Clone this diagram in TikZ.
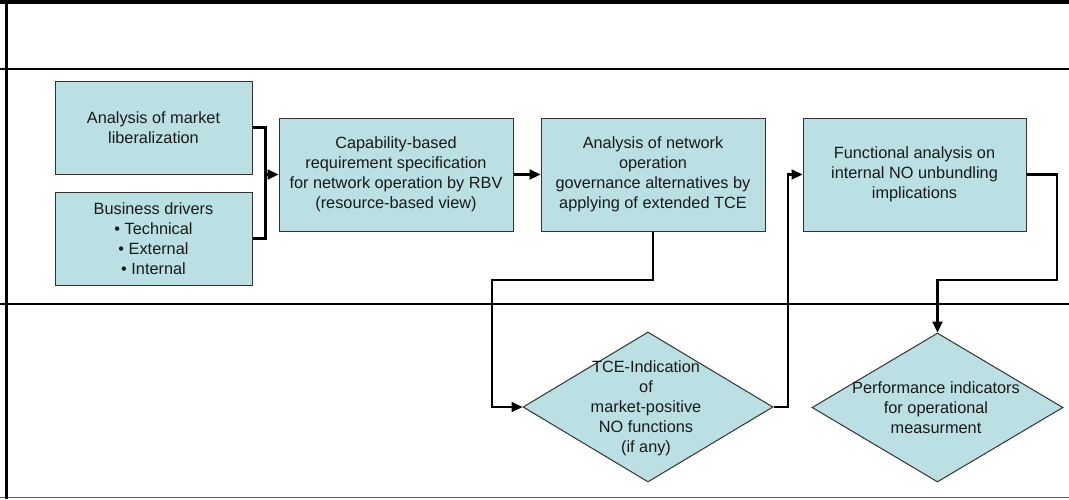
\documentclass[tikz,border=0pt]{standalone}
\usepackage{fontspec}
\setmainfont{Liberation Sans}
\usetikzlibrary{arrows.meta,shapes.geometric,calc}

\definecolor{boxfill}{RGB}{187,224,227}
\definecolor{boxline}{RGB}{50,50,50}
\definecolor{inktext}{RGB}{25,25,25}

\tikzset{
  procbox/.style={draw=boxline, line width=1pt, fill=boxfill, rectangle,
    inner sep=0pt, align=center, text=inktext,
    font=\fontsize{16.3}{20}\selectfont},
  decision/.style={draw=boxline, line width=1pt, fill=boxfill, diamond,
    inner sep=0pt},
  dectext/.style={align=center, text=inktext, inner sep=0pt,
    font=\fontsize{16.3}{20}\selectfont},
  link/.style={draw=black, line width=2.2pt},
  flow/.style={link, -{Triangle[length=11pt,width=10pt]}},
  lane/.style={draw=black, line width=1.3pt}
}

\begin{document}
\begin{tikzpicture}[x=1pt, y=-1pt]
  \useasboundingbox (0,0) rectangle (1069,499);

  % pool frame and lane separators
  \draw[lane] (0,69) -- (1069,69);
  \draw[lane] (0,304) -- (1069,304);
  \draw[lane, draw=black!65] (0,497.5) -- (1069,497.5);
  \draw[line width=3.6pt] (0,1.8) -- (1069,1.8);
  \draw[line width=3pt] (6.5,0) -- (6.5,499);

  % process steps
  \node[procbox, minimum width=197pt, minimum height=93pt] (b1) at (153.5,127.5)
    {Analysis of market\\liberalization};
  \node[procbox, minimum width=197pt, minimum height=93pt] (b2) at (153.5,238.5)
    {Business drivers\\\textbullet{} Technical\\\textbullet{} External\\\textbullet{} Internal};
  \node[procbox, minimum width=234pt, minimum height=113pt] (b3) at (396,174.5)
    {Capability-based\\requirement specification\\for network operation by RBV\\(resource-based view)};
  \node[procbox, minimum width=224pt, minimum height=113pt] (b4) at (653,174.5)
    {Analysis of network\\operation\\governance alternatives by\\applying of extended TCE};
  \node[procbox, minimum width=223pt, minimum height=113pt] (b5) at (914.5,174.5)
    {Functional analysis on\\internal NO unbundling\\implications};

  % decisions
  \node[decision, minimum width=250pt, minimum height=150pt] (d1) at (648,407) {};
  \node[dectext] (d1t) at (646,408)
    {TCE-Indication\\of\\market-positive\\NO functions\\(if any)};
  \node[decision, minimum width=251pt, minimum height=149pt] (d2) at (937.5,407.5) {};
  \node[dectext] (d2t) at (936,408)
    {Performance indicators\\for operational\\measurment};

  % routing points
  \coordinate (jn) at (265.5,174.5);
  \coordinate (k1) at (492,280);
  \coordinate (k2) at (788,300);
  \coordinate (k3) at (1057,280);

  % connectors
  \draw[link] (b1.east) -| (jn);
  \draw[link] (b2.east) -| (jn);
  \draw[flow] (jn) -- (b3.west);
  \draw[flow] (b3.east) -- (b4.west);
  \draw[flow] (b4.south) |- (k1) |- (d1.west);
  \draw[flow] (d1.east) -| (k2) |- (b5.west);
  \draw[flow] (b5.east) -| (k3) -| (d2.north);
\end{tikzpicture}
\end{document}
